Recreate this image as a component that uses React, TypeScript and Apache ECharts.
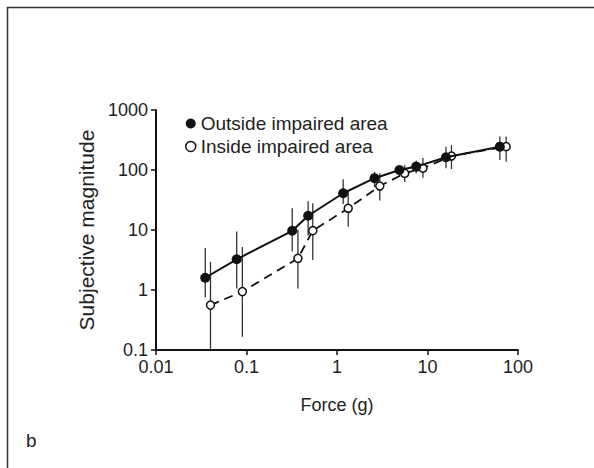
import React, { useEffect, useRef } from "react";
import * as echarts from "echarts";

const outsideX = [0.035, 0.078, 0.32, 0.48, 1.17, 2.6, 4.9, 7.5, 16, 63];
const outsideY = [1.6, 3.25, 9.7, 17.3, 41, 73, 100, 114, 163, 245];
const outsideHi = [5.0, 9.4, 23, 30, 70, 93, 121, 143, 245, 360];
const outsideLo = [0.75, 1.06, 4.4, 8, 27, 52, 77, 88, 107, 147];

const insideX = [0.04, 0.09, 0.37, 0.54, 1.33, 2.97, 5.6, 8.9, 18.4, 74];
const insideY = [0.56, 0.94, 3.37, 9.75, 23, 54, 88, 107, 171, 245];
const insideHi = [2.95, 5.2, 10, 28, 46, 88, 120, 158, 260, 360];
const insideLo = [0.1, 0.166, 1.06, 3.16, 11.3, 31, 63, 74, 104, 137];

const FONT = "Liberation Sans";
const FS = 18;

function errItem(params: any, api: any) {
  const x = api.value(0);
  const p1 = api.coord([x, api.value(1)]);
  const p2 = api.coord([x, api.value(2)]);
  return {
    type: "line",
    shape: { x1: p1[0], y1: p1[1], x2: p2[0], y2: p2[1] },
    style: { stroke: "#333", lineWidth: 1.3 },
  };
}

const fmt = (v: number) => String(v);

export default function App() {
  const ref = useRef<HTMLDivElement>(null);
  useEffect(() => {
    document.body.style.margin = "0";
    const chart = echarts.init(ref.current!, null, { renderer: "svg" });
    const option: any = {
      animation: false,
      backgroundColor: "#fff",
      textStyle: { fontFamily: FONT },
      grid: { left: 156, right: 76, top: 110, bottom: 118 },
      legend: {
        orient: "vertical",
        left: 180,
        top: 109,
        itemWidth: 10,
        itemHeight: 10,
        itemGap: 4,
        textStyle: { fontFamily: FONT, fontSize: 19, color: "#222", lineHeight: 18 },
        data: [
          { name: "Outside impaired area", icon: "circle", itemStyle: { color: "#111", borderWidth: 0 } },
          { name: "Inside impaired area", icon: "circle", itemStyle: { color: "#fff", borderColor: "#111", borderWidth: 1.5 } },
        ],
      },
      xAxis: {
        type: "log",
        logBase: 10,
        min: 0.01,
        max: 100,
        name: "Force (g)",
        nameLocation: "middle",
        nameGap: 46,
        nameTextStyle: { fontFamily: FONT, fontSize: FS, color: "#222" },
        axisLine: { lineStyle: { color: "#111", width: 2 } },
        axisTick: { length: 5, lineStyle: { color: "#111", width: 1.5 } },
        axisLabel: { fontFamily: FONT, fontSize: FS, color: "#222", margin: 8, formatter: fmt },
        splitLine: { show: false },
        minorTick: { show: false },
      },
      yAxis: {
        type: "log",
        logBase: 10,
        min: 0.1,
        max: 1000,
        name: "Subjective magnitude",
        nameLocation: "middle",
        nameGap: 59,
        nameTextStyle: { fontFamily: FONT, fontSize: 21, color: "#222" },
        axisLine: { show: true, lineStyle: { color: "#111", width: 2 } },
        axisTick: { show: true, length: 5, lineStyle: { color: "#111", width: 1.5 } },
        axisLabel: { fontFamily: FONT, fontSize: FS, color: "#222", margin: 8, formatter: fmt },
        splitLine: { show: false },
      },
      graphic: [
        {
          type: "rect",
          shape: { x: 7.5, y: 7.5, width: 620, height: 500 },
          style: { fill: "none", stroke: "#333", lineWidth: 1.5 },
          silent: true,
        },
        {
          type: "text",
          left: 26,
          top: 431,
          style: { text: "b", fontFamily: FONT, fontSize: 19, fill: "#222" },
        },
      ],
      series: [
        {
          type: "custom",
          name: "outsideErr",
          renderItem: errItem,
          data: outsideX.map((x, i) => [x, outsideLo[i], outsideHi[i]]),
          z: 1,
          silent: true,
        },
        {
          type: "custom",
          name: "insideErr",
          renderItem: errItem,
          data: insideX.map((x, i) => [x, insideLo[i], insideHi[i]]),
          z: 1,
          silent: true,
        },
        {
          type: "line",
          name: "Inside impaired area",
          data: insideX.map((x, i) => [x, insideY[i]]),
          symbol: "circle",
          symbolSize: 8,
          lineStyle: { color: "#111", width: 1.8, type: [9, 6] },
          itemStyle: { color: "#fff", borderColor: "#111", borderWidth: 1.5 },
          z: 3,
        },
        {
          type: "line",
          name: "Outside impaired area",
          data: outsideX.map((x, i) => [x, outsideY[i]]),
          symbol: "circle",
          symbolSize: 10,
          lineStyle: { color: "#111", width: 2 },
          itemStyle: { color: "#111", borderWidth: 0 },
          z: 4,
        },
      ],
    };
    chart.setOption(option);
    return () => chart.dispose();
  }, []);
  return <div ref={ref} style={{ width: 594, height: 468 }} />;
}
